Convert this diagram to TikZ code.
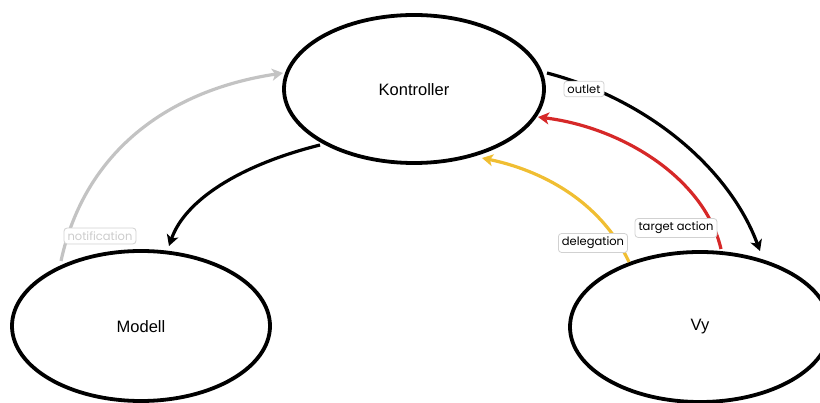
\documentclass[tikz,border=0pt]{standalone}
\usepackage{fontspec}
\setmainfont{Liberation Sans}
\newfontfamily\lblfont{Poppins}
\usetikzlibrary{arrows.meta}
\definecolor{tred}{RGB}{214,40,40}
\definecolor{tyel}{RGB}{240,190,50}
\definecolor{tgray}{RGB}{195,195,195}
\begin{document}
\begin{tikzpicture}[x=1pt,y=-1pt,
  conn/.style={line width=3.2pt,-{Stealth[length=11pt,width=12pt,inset=3pt]}},
  lbl/.style={draw=black!18,line width=0.8pt,fill=white,rounded corners=3pt,font=\lblfont\fontsize{11.5}{13}\selectfont,inner sep=3.5pt}]
\useasboundingbox (0,0) rectangle (820,403);
\clip (0,0) rectangle (820,403);
% ellipses
\draw[line width=3.8pt] (414,89) ellipse [x radius=130, y radius=74];
\draw[line width=3.8pt] (141,326) ellipse [x radius=129, y radius=75];
\draw[line width=3.8pt] (700,327) ellipse [x radius=130, y radius=75];
\node[font=\fontsize{16.5}{18}\selectfont] (k) at (414,90) {Kontroller};
\node[font=\fontsize{16.5}{18}\selectfont] (m) at (141,327) {Modell};
\node[font=\fontsize{16.5}{18}\selectfont] (v) at (700,327) {Vy};
% anchor coordinates
\coordinate (kml) at (320,145);
\coordinate (mt) at (169,246);
\coordinate (ms) at (61,261);
\coordinate (kl) at (283,73);
\coordinate (kr) at (547,73);
\coordinate (vt) at (760,251);
\coordinate (vs1) at (721,249);
\coordinate (kr2) at (538,117);
\coordinate (vs2) at (629,262);
\coordinate (kb) at (482,158);
% connectors
\draw[conn,black] (kml) .. controls (240,165) and (185,200) .. (mt);
\draw[conn,tgray] (ms) .. controls (85,150) and (170,90) .. (kl);
\draw[conn,black] (kr) .. controls (650,100) and (730,170) .. (vt);
\draw[conn,tred] (vs1) .. controls (705,180) and (625,128) .. (kr2);
\draw[conn,tyel] (vs2) .. controls (600,200) and (540,170) .. (kb);
% labels
\node[lbl,text=black!20] (ln) at (100,236) {notification};
\node[lbl] (lo) at (584,89) {outlet};
\node[lbl] (lt) at (676,228) {target action};
\node[lbl] (ld) at (593,243) {delegation};
\end{tikzpicture}
\end{document}
